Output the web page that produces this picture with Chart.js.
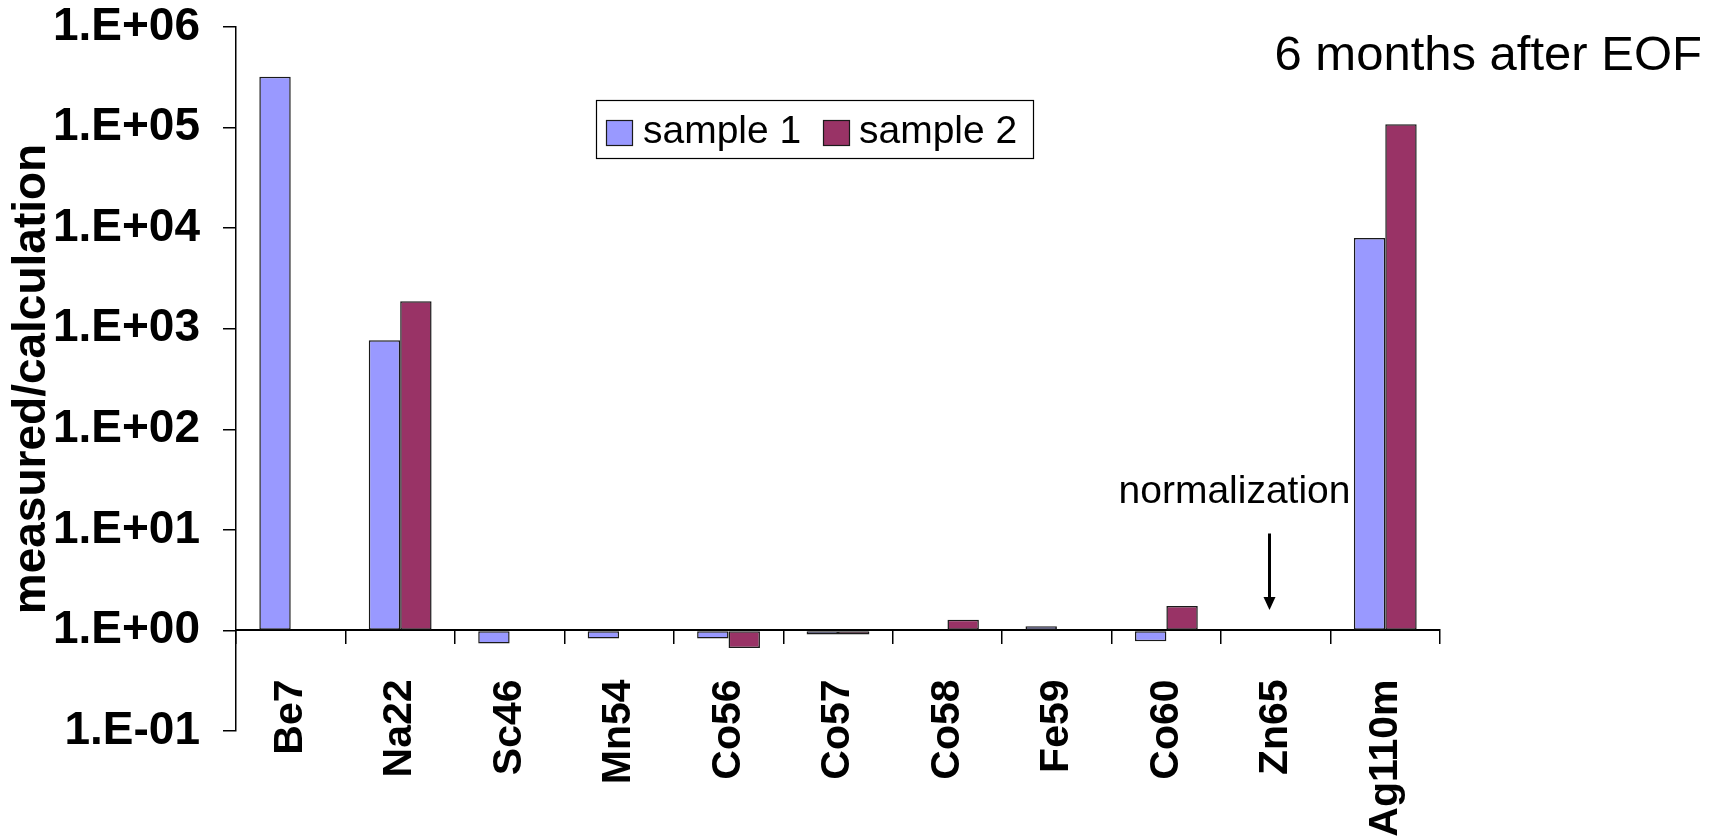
<!DOCTYPE html>
<html>
<head>
<meta charset="utf-8">
<title>measured/calculation</title>
<script src="https://cdn.jsdelivr.net/npm/chart.js@4.4.1/dist/chart.umd.min.js"></script>
<style>
  html, body { margin: 0; padding: 0; background: #ffffff; }
  #wrap { position: relative; width: 1719px; height: 840px; }
</style>
</head>
<body>
<div id="wrap"><canvas id="chart"></canvas></div>
<script>
// Nuclides on the category axis
const nuclides = ['Be7', 'Na22', 'Sc46', 'Mn54', 'Co56', 'Co57', 'Co58', 'Fe59', 'Co60', 'Zn65', 'Ag110m'];
// Ratio measured/calculation for each sample (Zn65 is the normalization point)
const sample1 = [320000, 770, 0.74, 0.83, 0.83, 0.91, 1.0, 1.1, 0.78, 1.0, 8000];
const sample2 = [null, 1870, null, 1.0, 0.67, 0.91, 1.28, 1.0, 1.75, 1.0, 108000];
// Decade ticks of the value axis and their labels
const yTickValues = [0.1, 1, 10, 100, 1000, 10000, 100000, 1000000];
const yTickLabels = ['1.E-01', '1.E+00', '1.E+01', '1.E+02', '1.E+03', '1.E+04', '1.E+05', '1.E+06'];
// Normalization arrow, in data units at the Zn65 category
const normArrowFrom = 9.2;
const normArrowTo = 1.6;

const FONT = "'Liberation Sans', Arial, Helvetica, sans-serif";

const notesPlugin = {
  id: 'notes',
  afterDraw(chart) {
    const { ctx, scales: { x, y } } = chart;
    ctx.save();
    ctx.fillStyle = '#000';
    ctx.strokeStyle = '#000';

    // period note, top right
    ctx.font = `49px ${FONT}`;
    ctx.textAlign = 'right';
    ctx.textBaseline = 'alphabetic';
    ctx.fillText('6 months after EOF', 1702, 70);

    // normalization note with arrow pointing down to Zn65
    const ax = Math.round(x.getPixelForValue(nuclides.indexOf('Zn65')) - 6.5) + 0.5;
    const yTop = y.getPixelForValue(normArrowFrom);
    const yTip = y.getPixelForValue(normArrowTo);
    ctx.font = `39px ${FONT}`;
    ctx.textAlign = 'center';
    ctx.fillText('normalization', ax - 35, 503);
    ctx.lineWidth = 3;
    ctx.beginPath();
    ctx.moveTo(ax, yTop);
    ctx.lineTo(ax, yTip - 10);
    ctx.stroke();
    ctx.beginPath();
    ctx.moveTo(ax - 6, yTip - 13);
    ctx.lineTo(ax + 6, yTip - 13);
    ctx.lineTo(ax, yTip);
    ctx.closePath();
    ctx.fill();

    // legend box
    const box = { left: 596, top: 100, width: 437, height: 58 };
    ctx.lineWidth = 1.2;
    ctx.strokeRect(box.left + 0.5, box.top + 0.5, box.width, box.height);
    ctx.font = `39px ${FONT}`;
    ctx.textAlign = 'left';
    ctx.textBaseline = 'middle';
    const items = [{ sx: 606, tx: 643 }, { sx: 823, tx: 859 }];
    chart.data.datasets.forEach((ds, i) => {
      const it = items[i];
      ctx.fillStyle = ds.backgroundColor;
      ctx.fillRect(it.sx, 120, 26, 25);
      ctx.lineWidth = 1.2;
      ctx.strokeStyle = ds.borderColor;
      ctx.strokeRect(it.sx + 0.5, 120.5, 26, 25);
      ctx.fillStyle = '#000';
      ctx.fillText(ds.label, it.tx, 132);
    });
    ctx.restore();
  }
};

new Chart(document.getElementById('chart'), {
  type: 'bar',
  data: {
    labels: nuclides,
    datasets: [
      { label: 'sample 1', data: sample1, backgroundColor: '#9999FF', borderColor: '#1a1a1a',
        borderWidth: 1.5, borderSkipped: false, base: 1 },
      { label: 'sample 2', data: sample2, backgroundColor: '#993366', borderColor: '#1a1a1a',
        borderWidth: 1.5, borderSkipped: false, base: 1 }
    ]
  },
  options: {
    responsive: true,
    maintainAspectRatio: false,
    animation: false,
    layout: { padding: { left: 0, top: 27, right: 279, bottom: 109 } },
    datasets: { bar: { categoryPercentage: 0.574, barPercentage: 1 } },
    plugins: { legend: { display: false }, tooltip: { enabled: false } },
    scales: {
      x: {
        type: 'category',
        position: { y: 1 },
        offset: true,
        grid: { display: true, drawOnChartArea: false, offset: true, tickLength: 13, color: '#000', lineWidth: 1.5 },
        border: { display: true, color: '#000', width: 2 },
        ticks: {
          color: '#000', autoSkip: false, minRotation: 90, maxRotation: 90, padding: 36,
          font: { family: FONT, size: 41, weight: 'bold' }
        }
      },
      y: {
        type: 'logarithmic',
        min: 0.1,
        max: 1000000,
        afterBuildTicks: (scale) => { scale.ticks = yTickValues.map(v => ({ value: v })); },
        afterFit: (scale) => { scale.width = 236; scale.paddingTop = 0; scale.paddingBottom = 0; },
        grid: { drawOnChartArea: false, tickLength: 13, color: '#000', lineWidth: 1.5 },
        border: { display: true, color: '#000', width: 1.5 },
        ticks: {
          color: '#000', padding: 23,
          font: { family: FONT, size: 46, weight: 'bold' },
          callback: (value, index) => yTickLabels[index]
        },
        title: {
          display: true, text: 'measured/calculation', color: '#000',
          font: { family: FONT, size: 46, weight: 'bold' },
          padding: { top: 5, bottom: 0 }
        }
      }
    }
  },
  plugins: [notesPlugin]
});
</script>
</body>
</html>
